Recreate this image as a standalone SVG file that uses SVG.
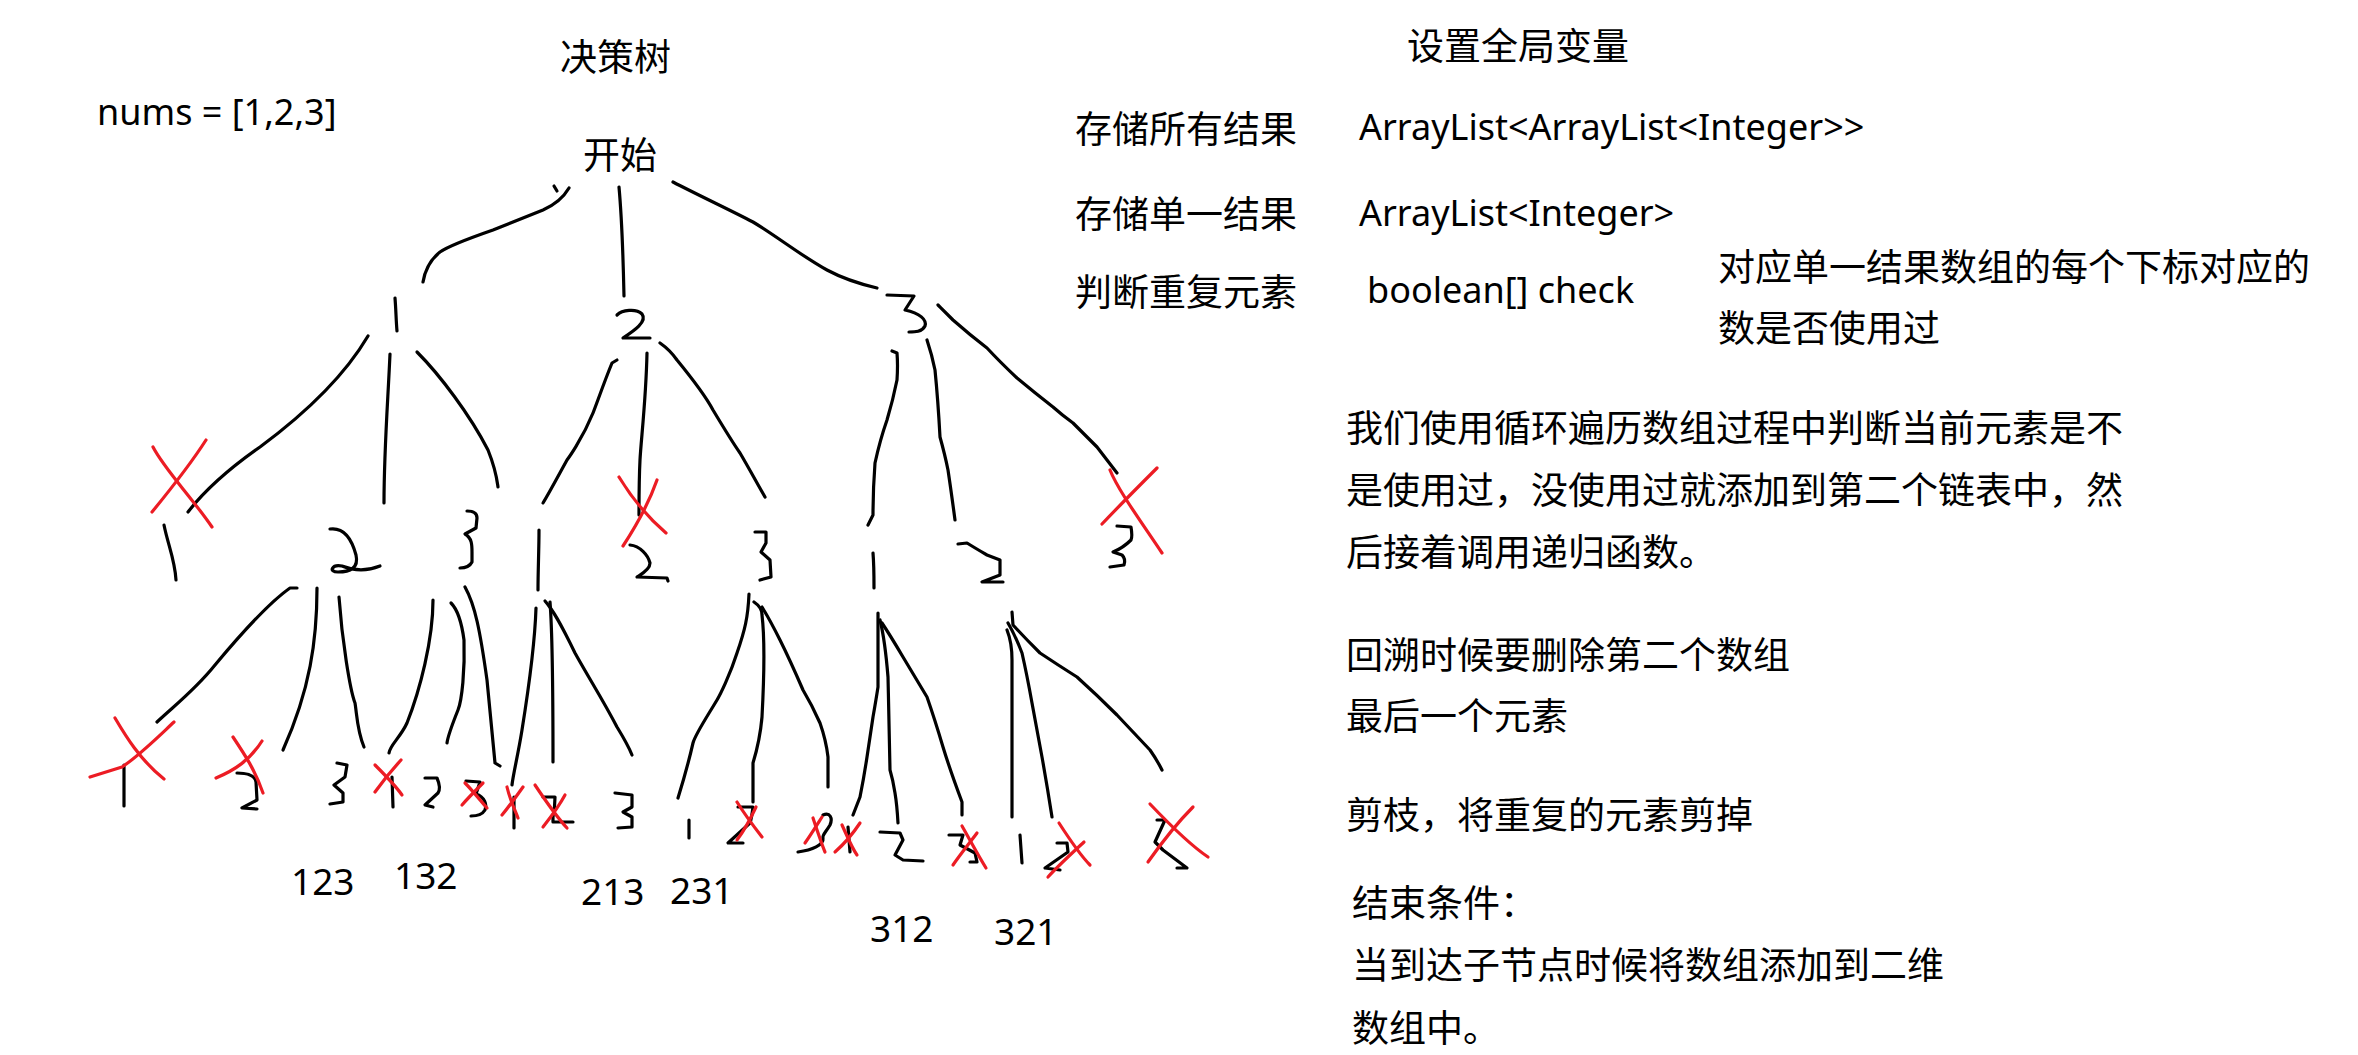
<svg xmlns="http://www.w3.org/2000/svg" width="2358" height="1055" viewBox="0 0 2358 1055">
<style>
.ink{fill:none;stroke:#000;stroke-width:3.2;stroke-linecap:round;stroke-linejoin:round}
.cut{fill:none;stroke:#ec1c24;stroke-width:3.2;stroke-linecap:round;stroke-linejoin:round}
.zh{font-family:"Noto Sans CJK SC","Noto Sans",sans-serif;font-size:37px;fill:#000}
.en{font-family:"Noto Sans","Liberation Sans",sans-serif;font-size:36px;fill:#000}
.num{font-family:"Noto Sans","Liberation Sans",sans-serif;font-size:37px;fill:#000}
</style>
<rect width="2358" height="1055" fill="#fff"/>

<g id="titles">
<text class="zh" x="560" y="71">决策树</text>
<text class="en" x="97" y="125">nums = [1,2,3]</text>
</g>

<g id="connectors">
<!-- root edges -->
<path class="ink" d="M569,188 C562,200 552,206 543,210 L493,230 C470,238 450,245 440,252 C430,260 425,270 423,282"/>
<path class="ink" d="M554,186 L557,191"/>
<path class="ink" d="M619,187 C622,220 623,250 624,296"/>
<path class="ink" d="M673,182 C700,196 730,210 753,222 C775,235 800,255 827,270 C840,277 860,284 877,288"/>
<!-- from 1 -->
<path class="ink" d="M368,336 C345,375 310,410 260,447 C230,468 205,490 188,512"/>
<path class="ink" d="M390,354 C388,400 384,450 384,503"/>
<path class="ink" d="M417,352 C440,375 470,415 488,450 C496,470 497,480 498,487"/>
<!-- from 1-2 -->
<path class="ink" d="M297,588 L290,588 C270,602 240,635 215,665 C195,690 175,705 157,722"/>
<path class="ink" d="M317,588 C317,640 310,690 283,750"/>
<path class="ink" d="M339,597 C342,640 350,690 355,703 C357,715 357,730 364,747"/>
<!-- from 1-3 -->
<path class="ink" d="M433,600 C433,640 420,690 407,723 C400,738 390,745 389,753"/>
<path class="ink" d="M451,603 C458,610 462,625 464,640 C465,670 462,700 458,710 C452,725 448,735 447,743"/>
<path class="ink" d="M465,587 C475,605 480,630 487,680 C491,720 493,743 495,763 L500,766"/>
<!-- from 2 -->
<path class="ink" d="M617,360 L612,363 C605,380 598,400 593,413 C582,440 567,460 567,460 C555,482 548,495 543,503"/>
<path class="ink" d="M647,353 C646,400 641,440 640,460 C639,480 639,500 639,515"/>
<path class="ink" d="M660,343 C670,350 677,360 677,360 C695,382 705,395 713,410 C725,430 733,443 740,453 C750,470 758,485 765,497"/>
<!-- from 2-1 -->
<path class="ink" d="M536,608 C535,640 530,680 522,730 C518,755 513,775 512,785"/>
<path class="ink" d="M550,602 C553,640 553,700 553,762"/>
<path class="ink" d="M545,601 C553,610 560,622 575,653 C590,680 603,700 617,727 C625,740 630,750 632,755"/>
<!-- from 2-3 -->
<path class="ink" d="M749,594 C748,617 745,630 737,653 C730,675 720,695 717,700 C705,720 695,735 693,743 C688,765 682,785 678,798"/>
<path class="ink" d="M754,602 C760,606 762,610 762,615 C765,640 764,680 762,717 C760,740 753,763 753,763 L753,802"/>
<path class="ink" d="M762,607 C770,620 780,640 780,640 C790,660 803,690 803,690 C812,705 820,723 820,723 C826,740 828,757 828,757 L828,787"/>
<!-- from 3 -->
<path class="ink" d="M892,351 L897,353 C898,365 897,380 897,380 C893,400 887,420 887,420 C880,440 875,463 875,463 C873,490 873,515 873,515 L868,525"/>
<path class="ink" d="M927,340 C932,355 935,370 935,370 C938,400 940,437 940,437 C945,455 948,470 948,470 C951,490 955,520 955,520"/>
<path class="ink" d="M938,305 C945,312 953,320 953,320 C970,335 987,348 987,348 C1000,362 1017,378 1017,378 C1035,393 1053,407 1053,407 C1062,415 1073,423 1073,423 C1085,435 1097,447 1097,447 C1107,460 1117,473 1117,473"/>
<!-- from 3-1 -->
<path class="ink" d="M878,613 C878,650 878,687 878,687 C876,700 873,717 873,717 C870,737 867,757 867,757 C864,777 860,797 860,797 L853,815"/>
<path class="ink" d="M880,620 C885,640 888,677 888,677 C889,720 890,770 890,770 C893,780 895,793 895,793 C897,805 898,823 898,823"/>
<path class="ink" d="M882,623 C890,635 903,657 903,657 C915,677 927,697 927,697 C935,720 943,747 943,747 C950,770 962,802 962,802 L962,815"/>
<!-- from 3-2 -->
<path class="ink" d="M1007,630 C1011,640 1012,650 1012,660 L1012,817"/>
<path class="ink" d="M1008,623 C1015,635 1022,653 1022,653 C1027,675 1032,703 1032,703 C1037,730 1042,757 1042,757 C1047,785 1052,817 1052,817"/>
<path class="ink" d="M1012,612 L1013,625 C1025,638 1040,653 1040,653 C1058,665 1077,677 1077,677 C1097,695 1117,715 1117,715 C1133,732 1150,750 1150,750 C1157,760 1162,770 1162,770"/>
</g>

<g id="root"><text class="zh" x="583" y="169">开始</text></g>

<g id="n1"><path class="ink" d="M395,298 C396,310 396,320 397,331"/></g>
<g id="n2"><path class="ink" d="M617,315 C622,310 636,308 642,314 C648,322 632,332 623,338 L650,338"/></g>
<g id="n3"><path class="ink" d="M887,295 L914,296 L905,310 C920,313 927,320 925,326 C922,332 915,332 909,332"/></g>

<g id="n1-1">
<path class="ink" d="M164,525 C168,545 175,560 176,580"/>
<path class="cut" d="M153,447 C165,470 190,495 212,527"/>
<path class="cut" d="M206,440 C190,465 170,490 152,512"/>
</g>
<g id="n1-2"><path class="ink" d="M330,529 C345,527 352,540 356,555 C359,568 350,572 338,572 C328,572 332,564 342,566 C352,570 365,572 380,566"/></g>
<g id="n1-3"><path class="ink" d="M467,511 C472,511 477,512 477,518 L476,528 L465,534 C472,538 472,545 472,552 L472,562 C470,566 465,568 460,568"/></g>

<g id="n1-2-1">
<path class="ink" d="M124,765 L124,806"/>
<path class="cut" d="M115,718 C125,735 140,760 164,779"/>
<path class="cut" d="M174,722 C160,735 140,755 122,767 L90,777"/>
</g>
<g id="n1-2-2">
<path class="ink" d="M237,773 C248,773 255,776 256,782 L257,800 L242,808 L257,809"/>
<path class="cut" d="M233,737 C245,755 255,770 263,793"/>
<path class="cut" d="M262,741 C250,760 235,770 216,778"/>
</g>
<g id="n1-2-3"><path class="ink" d="M337,763 L347,765 L345,777 L334,785 L343,793 L343,802 L330,804"/></g>

<g id="n1-3-1">
<path class="ink" d="M392,777 L393,807"/>
<path class="cut" d="M375,765 C385,775 395,785 402,795"/>
<path class="cut" d="M401,760 C390,772 380,785 375,792"/>
</g>
<g id="n1-3-2"><path class="ink" d="M425,778 L437,778 C440,785 440,790 438,793 L425,805 L433,807"/></g>
<g id="n1-3-3">
<path class="ink" d="M466,781 L480,782 L476,794 C485,797 487,805 485,810 C482,815 476,816 471,816"/>
<path class="cut" d="M465,783 C472,790 480,800 487,808"/>
<path class="cut" d="M483,783 C476,790 468,798 462,805"/>
</g>

<g id="n2-1"><path class="ink" d="M539,530 C539,550 538,570 538,590"/></g>
<g id="n2-2">
<path class="ink" d="M630,545 C640,546 648,555 650,563 C650,570 640,575 637,577 L667,578 L668,581"/>
<path class="cut" d="M619,477 C630,495 645,515 666,533"/>
<path class="cut" d="M657,480 C650,500 640,520 623,546"/>
</g>
<g id="n2-3"><path class="ink" d="M755,532 L766,532 L766,543 L761,552 L770,560 L771,577 L760,580"/></g>

<g id="n2-1-1">
<path class="ink" d="M514,797 L514,828"/>
<path class="cut" d="M507,787 C510,800 515,810 518,818"/>
<path class="cut" d="M523,787 C515,798 508,808 502,815"/>
</g>
<g id="n2-1-2">
<path class="ink" d="M543,797 L555,797 C555,805 554,812 553,817 L553,822 L573,822"/>
<path class="cut" d="M535,785 C545,800 555,815 567,828"/>
<path class="cut" d="M565,795 C558,808 550,818 543,827"/>
</g>
<g id="n2-1-3"><path class="ink" d="M615,793 L632,795 L632,807 L623,812 L632,817 L632,827 L618,828"/></g>

<g id="n2-3-1"><path class="ink" d="M689,820 L689,838"/></g>
<g id="n2-3-2">
<path class="ink" d="M738,807 L753,807 C752,815 751,820 750,823 L728,843 L743,843"/>
<path class="cut" d="M737,802 C745,815 755,828 762,837"/>
<path class="cut" d="M756,807 C750,820 743,832 737,840"/>
</g>
<g id="n2-3-3">
<path class="ink" d="M823,815 C830,812 833,818 830,825 C826,832 822,835 823,838 C824,845 812,850 798,852"/>
<path class="cut" d="M813,818 C817,830 822,845 825,852"/>
<path class="cut" d="M822,817 C815,828 810,836 805,843"/>
</g>

<g id="n3-1"><path class="ink" d="M873,553 C874,565 874,575 874,588"/></g>
<g id="n3-2"><path class="ink" d="M958,544 L967,543 C975,548 987,555 987,555 L1000,560 L1000,575 L982,582 L1003,582"/></g>
<g id="n3-3">
<path class="ink" d="M1117,526 L1131,527 C1132,533 1132,538 1131,540 C1125,546 1118,550 1113,552 L1122,555 C1125,558 1125,562 1124,565 L1110,567"/>
<path class="cut" d="M1110,470 C1118,490 1140,520 1162,553"/>
<path class="cut" d="M1157,468 C1140,485 1120,505 1102,524"/>
</g>

<g id="n3-1-1">
<path class="ink" d="M848,827 L850,852"/>
<path class="cut" d="M842,825 C848,838 852,848 857,855"/>
<path class="cut" d="M860,823 C852,835 843,845 835,852"/>
</g>
<g id="n3-1-2"><path class="ink" d="M880,832 L900,833 L903,840 L895,855 L903,860 L923,861"/></g>
<g id="n3-1-3">
<path class="ink" d="M949,835 L963,835 L960,845 L975,853 L977,862 L970,862"/>
<path class="cut" d="M962,826 C970,840 978,855 986,868"/>
<path class="cut" d="M977,833 C968,845 960,855 953,865"/>
</g>

<g id="n3-2-1"><path class="ink" d="M1020,835 L1022,863"/></g>
<g id="n3-2-2">
<path class="ink" d="M1057,843 L1067,843 L1068,852 L1045,868 L1060,870"/>
<path class="cut" d="M1059,823 C1070,840 1080,855 1090,865"/>
<path class="cut" d="M1084,842 C1070,855 1058,866 1048,877"/>
</g>
<g id="n3-2-3">
<path class="ink" d="M1157,820 L1165,820 L1155,842 L1163,850 L1183,865 L1187,868 L1177,868"/>
<path class="cut" d="M1150,804 C1170,825 1190,845 1208,857"/>
<path class="cut" d="M1193,807 C1175,825 1160,845 1148,862"/>
</g>

<g id="results">
<text class="num" x="291" y="895">123</text>
<text class="num" x="394" y="889">132</text>
<text class="num" x="581" y="905">213</text>
<text class="num" x="670" y="904">231</text>
<text class="num" x="870" y="942">312</text>
<text class="num" x="994" y="945">321</text>
</g>

<g id="globals">
<text class="zh" x="1407" y="60">设置全局变量</text>
<text class="zh" x="1075" y="143">存储所有结果</text>
<text class="en" x="1359" y="140">ArrayList&lt;ArrayList&lt;Integer&gt;&gt;</text>
<text class="zh" x="1075" y="228">存储单一结果</text>
<text class="en" x="1359" y="226">ArrayList&lt;Integer&gt;</text>
<text class="zh" x="1075" y="306">判断重复元素</text>
<text class="en" x="1367" y="303">boolean[] check</text>
<text class="zh" x="1718" y="281">对应单一结果数组的每个下标对应的</text>
<text class="zh" x="1718" y="342">数是否使用过</text>
</g>

<g id="notes">
<text class="zh" x="1346" y="442">我们使用循环遍历数组过程中判断当前元素是不</text>
<text class="zh" x="1346" y="504">是使用过，没使用过就添加到第二个链表中，然</text>
<text class="zh" x="1346" y="566">后接着调用递归函数。</text>
<text class="zh" x="1346" y="669">回溯时候要删除第二个数组</text>
<text class="zh" x="1346" y="730">最后一个元素</text>
<text class="zh" x="1346" y="829">剪枝，将重复的元素剪掉</text>
<text class="zh" x="1352" y="917">结束条件：</text>
<text class="zh" x="1352" y="979">当到达子节点时候将数组添加到二维</text>
<text class="zh" x="1352" y="1042">数组中。</text>
</g>
</svg>
